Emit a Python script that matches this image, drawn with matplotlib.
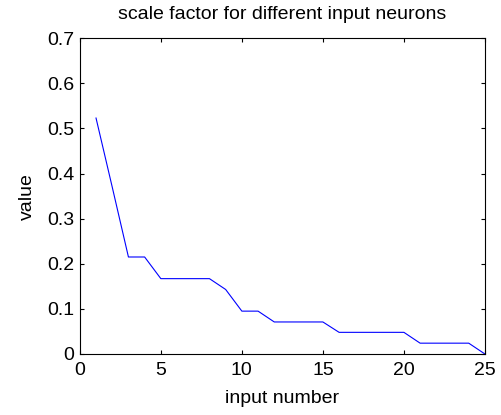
import numpy as np
import matplotlib
matplotlib.use('Agg')
import matplotlib.pyplot as plt

plt.rcParams['font.family'] = ['Liberation Sans', 'DejaVu Sans']

# scale factor per input neuron
inputs = np.arange(1, 26)
values = [0.523, 0.37, 0.215, 0.215, 0.167, 0.167, 0.167, 0.167, 0.143, 0.095,
          0.095, 0.071, 0.071, 0.071, 0.071, 0.048, 0.048, 0.048, 0.048, 0.048,
          0.024, 0.024, 0.024, 0.024, 0.0]

fig = plt.figure(figsize=(5.02, 4.15), dpi=100)
ax = fig.add_axes([0.159, 0.147, 0.807, 0.761])
ax.plot(inputs, values, color='blue', lw=0.8)
ax.set_xlim(0, 25)
ax.set_ylim(0, 0.7)
ax.set_xticks([0, 5, 10, 15, 20, 25])
ax.set_yticks(np.arange(0, 0.71, 0.1))
ax.set_yticklabels(['0', '0.1', '0.2', '0.3', '0.4', '0.5', '0.6', '0.7'])
ax.tick_params(direction='in', top=True, right=True, labelsize=14, length=3, pad=4)
ax.tick_params(axis='x', pad=6)
for s in ax.spines.values():
    s.set_linewidth(0.8)
ax.set_xlabel('input number', fontsize=14, labelpad=8)
ax.set_ylabel('value', fontsize=14, labelpad=8)
ax.set_title('scale factor for different input neurons', fontsize=14, pad=14)

fig.savefig('out.png', dpi=100)
